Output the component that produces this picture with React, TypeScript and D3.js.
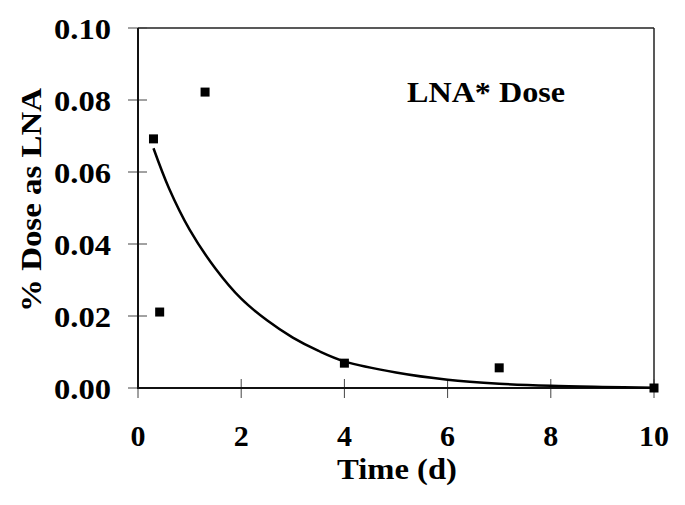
import React from 'react'
import { scaleLinear, line, curveCatmullRom } from 'd3'

// measured points
const timeDays = [0.3, 0.42, 1.3, 4, 7, 10]
const doseLNA = [0.0692, 0.0211, 0.0822, 0.0069, 0.0056, 0.0]

// fitted decay curve
const fitTime = [0.3, 0.6, 1, 1.5, 2, 2.5, 3, 3.5, 4, 5, 6, 7, 8, 9, 10]
const fitDose = [0.0666, 0.0555, 0.044, 0.0332, 0.0248, 0.0188, 0.014, 0.0103, 0.0074, 0.0043, 0.0023, 0.0012, 0.0006, 0.0003, 0.0001]

const xTicks = [0, 2, 4, 6, 8, 10]
const yTicks = [0, 0.02, 0.04, 0.06, 0.08, 0.1]

const App = () => {
  const width = 685
  const height = 505
  const margin = { top: 28, right: 31, bottom: 117, left: 138 }

  const x = scaleLinear().domain([0, 10]).range([margin.left, width - margin.right])
  const y = scaleLinear().domain([0, 0.1]).range([height - margin.bottom, margin.top])

  const fit = fitTime.map((t, i) => ({ t, v: fitDose[i] }))
  const fitLine = line<{ t: number; v: number }>()
    .x(d => x(d.t))
    .y(d => y(d.v))
    .curve(curveCatmullRom)

  const font = '"Liberation Serif", "Times New Roman", serif'
  const x0 = x(0), x1 = x(10), y0 = y(0), y1 = y(0.1)

  return (
    <svg width={width} height={height} style={{ position: 'absolute', left: 0, top: 0, background: '#fff' }}
      fontFamily={font} fontWeight="bold">
      {/* frame */}
      <line x1={x0} x2={x1} y1={y1} y2={y1} stroke="#222" strokeWidth={1.5} />
      <line x1={x1} x2={x1} y1={y1} y2={y0} stroke="#222" strokeWidth={1.5} />
      {/* y ticks */}
      {yTicks.map(t => (
        <g key={'y' + t}>
          <line x1={x0 - 10} x2={x0 + 9} y1={y(t)} y2={y(t)} stroke="#444" strokeWidth={1} />
          <text x={x0 - 27} y={y(t)} dy="0.35em" textAnchor="end" fontSize={30}
            textLength={57} lengthAdjust="spacingAndGlyphs">{t.toFixed(2)}</text>
        </g>
      ))}
      {/* x ticks */}
      {xTicks.map(t => (
        <g key={'x' + t}>
          <line x1={x(t)} x2={x(t)} y1={y0 - 9} y2={y0 + 10} stroke="#444" strokeWidth={1} />
          <text x={x(t)} y={y0 + 58} textAnchor="middle" fontSize={30}>{t}</text>
        </g>
      ))}
      {/* axes */}
      <line x1={x0} x2={x0} y1={y1} y2={y0 + 1} stroke="#111" strokeWidth={2} />
      <line x1={x0 - 1} x2={x1} y1={y0} y2={y0} stroke="#111" strokeWidth={2} />

      <path d={fitLine(fit) || ''} fill="none" stroke="#000" strokeWidth={2.5} />

      {timeDays.map((t, i) => (
        <rect key={i} x={x(t) - 4.5} y={y(doseLNA[i]) - 4.5} width={9} height={9} fill="#000" />
      ))}

      <text x={407} y={102} fontSize={30} textLength={158} lengthAdjust="spacingAndGlyphs">LNA* Dose</text>
      <text x={337} y={479} fontSize={30} textLength={120} lengthAdjust="spacingAndGlyphs">Time (d)</text>
      <text transform={`translate(41,312) rotate(-90)`} fontSize={30}
        textLength={224} lengthAdjust="spacingAndGlyphs">% Dose as LNA</text>
    </svg>
  )
}

export default App
